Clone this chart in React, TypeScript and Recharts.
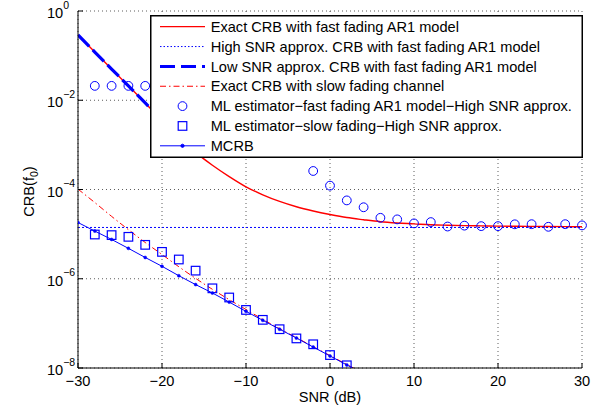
import React from 'react';
import { LineChart, Line, XAxis, YAxis, CartesianGrid, Legend } from 'recharts';

const FONT = '"Liberation Sans", Arial, Helvetica, sans-serif';
const RED = '#ff0000';
const BLUE = '#0000ff';

const snr = [-30, -28, -26, -24, -22, -20, -18, -16, -14, -12, -10, -8, -6, -4, -2, 0, 2, 4, 6, 8, 10, 12, 14, 16, 18, 20, 22, 24, 26, 28, 30];

const exactFast = [2.9e-1, 1.2e-1, 5.0e-2, 2.1e-2, 8.7e-3, 3.5e-3, 1.5e-3, 6.8e-4, 3.5e-4, 1.95e-4, 1.15e-4, 7.6e-5, 5.4e-5, 4.1e-5, 3.3e-5, 2.75e-5, 2.35e-5, 2.1e-5, 1.9e-5, 1.78e-5, 1.7e-5, 1.62e-5, 1.58e-5, 1.55e-5, 1.53e-5, 1.51e-5, 1.5e-5, 1.49e-5, 1.48e-5, 1.47e-5, 1.46e-5];

const highSnr = [1.41e-5, null, null, null, null, null, null, null, null, null, null, null, null, null, null, null, null, null, null, null, null, null, null, null, null, null, null, null, null, null, 1.41e-5];

const lowSnr = [2.9e-1, 1.2e-1, 5.0e-2, 2.1e-2, 8.7e-3, 3.6e-3, 1.5e-3, null, null, null, null, null, null, null, null, null, null, null, null, null, null, null, null, null, null, null, null, null, null, null, null];

const exactSlow = [1.02e-4, 5.1e-5, 2.5e-5, 1.26e-5, 6.5e-6, 3.5e-6, 1.86e-6, 1.02e-6, 5.8e-7, 3.4e-7, 2.05e-7, 1.23e-7, 7.6e-8, 4.8e-8, 3.0e-8, 1.9e-8, 1.2e-8, 7.6e-9, null, null, null, null, null, null, null, null, null, null, null, null, null];

const mlFast = [null, 2.1e-2, 2.1e-2, 2.1e-2, 2.1e-2, null, null, null, null, null, null, null, null, null, 2.6e-4, 1.22e-4, 5.7e-5, 4.0e-5, 2.32e-5, 2.14e-5, 1.74e-5, 1.86e-5, 1.48e-5, 1.55e-5, 1.51e-5, 1.51e-5, 1.66e-5, 1.67e-5, 1.46e-5, 1.67e-5, 1.57e-5];

const mlSlow = [null, 9.8e-6, 9.5e-6, 8.7e-6, 5.75e-6, 4.0e-6, 2.7e-6, 1.52e-6, 6.1e-7, 3.8e-7, 2.0e-7, 1.2e-7, 7.4e-8, 4.6e-8, 3.4e-8, 1.95e-8, 1.15e-8, null, null, null, null, null, null, null, null, null, null, null, null, null, null];

const mcrb = [1.82e-5, 1.17e-5, 7.6e-6, 4.8e-6, 3.0e-6, 1.9e-6, 1.17e-6, 7.4e-7, 4.8e-7, 3.0e-7, 1.86e-7, 1.17e-7, 7.4e-8, 4.7e-8, 2.95e-8, 1.86e-8, 1.17e-8, 7.4e-9, null, null, null, null, null, null, null, null, null, null, null, null, null];

const xTicks = [-30, -20, -10, 0, 10, 20, 30];
const yTicks = [1, 1e-2, 1e-4, 1e-6, 1e-8];

const legendLabels = [
  'Exact CRB with fast fading AR1 model',
  'High SNR approx. CRB with fast fading AR1 model',
  'Low SNR approx. CRB with fast fading AR1 model',
  'Exact CRB with slow fading channel',
  'ML estimator\u2212fast fading AR1 model\u2212High SNR approx.',
  'ML estimator\u2212slow fading\u2212High SNR approx.',
  'MCRB',
];

const data = snr.map((s, i) => ({
  snr: s,
  exactFast: exactFast[i],
  highSnr: highSnr[i],
  lowSnr: lowSnr[i],
  exactSlow: exactSlow[i],
  mlFast: mlFast[i],
  mlSlow: mlSlow[i],
  mcrb: mcrb[i],
}));

const minus = (v: number) => (v < 0 ? `\u2212${-v}` : `${v}`);

function BottomTick(props: any) {
  const { x, y, payload } = props;
  return (
    <g>
      <line x1={x} x2={x} y1={y} y2={y - 5} stroke="#000" strokeWidth={1} />
      <text x={x} y={y + 18} textAnchor="middle" fontFamily={FONT} fontSize={14.6} fill="#000">
        {minus(payload.value)}
      </text>
    </g>
  );
}

function TopTick(props: any) {
  const { x, y } = props;
  return <line x1={x} x2={x} y1={y} y2={y + 5} stroke="#000" strokeWidth={1} />;
}

function LeftTick(props: any) {
  const { x, y, payload } = props;
  const e = Math.round(Math.log10(payload.value));
  return (
    <g>
      <line x1={x} x2={x + 5} y1={y} y2={y} stroke="#000" strokeWidth={1} />
      <text x={x - 31} y={y + 7} textAnchor="start" fontFamily={FONT} fontSize={14.6} fill="#000">
        <tspan>10</tspan>
        <tspan dy={-9.5} fontSize={10.5}>{minus(e)}</tspan>
      </text>
    </g>
  );
}

function RightTick(props: any) {
  const { x, y } = props;
  return <line x1={x} x2={x - 5} y1={y} y2={y} stroke="#000" strokeWidth={1} />;
}

function SquareDot(props: any) {
  const { cx, cy, index } = props;
  if (cx == null || cy == null || isNaN(cx) || isNaN(cy)) return <g key={`sq-${index}`} />;
  return (
    <rect key={`sq-${index}`} x={cx - 4.3} y={cy - 4.3} width={8.6} height={8.6} fill="none" stroke={BLUE} strokeWidth={1.2} />
  );
}

function LegendBox() {
  const rowY = (i: number) => 11.7 + i * 19.85;
  const x1 = 10;
  const x2 = 55;
  const mx = 32.5;
  return (
    <svg width={433} height={143} style={{ display: 'block' }}>
      <rect x={0.75} y={0.75} width={431.5} height={141.5} fill="#fff" stroke="#000" strokeWidth={1.5} />
      <line x1={x1} x2={x2} y1={rowY(0)} y2={rowY(0)} stroke={RED} strokeWidth={1.3} />
      <line x1={x1} x2={x2} y1={rowY(1)} y2={rowY(1)} stroke={BLUE} strokeWidth={1} strokeDasharray="1.5 2" />
      <line x1={x1} x2={x2} y1={rowY(2)} y2={rowY(2)} stroke={BLUE} strokeWidth={3} strokeDasharray="15 6" />
      <line x1={x1} x2={x2} y1={rowY(3)} y2={rowY(3)} stroke={RED} strokeWidth={1} strokeDasharray="6 3 1.5 3" />
      <circle cx={mx} cy={rowY(4)} r={4.4} fill="none" stroke={BLUE} strokeWidth={1} />
      <rect x={mx - 4.3} y={rowY(5) - 4.3} width={8.6} height={8.6} fill="none" stroke={BLUE} strokeWidth={1.2} />
      <line x1={x1} x2={x2} y1={rowY(6)} y2={rowY(6)} stroke={BLUE} strokeWidth={1} />
      <circle cx={mx} cy={rowY(6)} r={1.6} fill={BLUE} stroke={BLUE} />
      {legendLabels.map((t, i) => (
        <text key={t} x={60.7} y={rowY(i) + 5.2} fontFamily={FONT} fontSize={14.6} fill="#000">
          {t}
        </text>
      ))}
    </svg>
  );
}

function XLabel(props: any) {
  const { viewBox } = props;
  const { x, y, width } = viewBox;
  return (
    <text x={x + width / 2} y={y + 34} textAnchor="middle" fontFamily={FONT} fontSize={14.6} fill="#000">
      SNR (dB)
    </text>
  );
}

function YLabel(props: any) {
  const { viewBox } = props;
  const { y, height } = viewBox;
  const cx = 34;
  const cy = y + height / 2 + 2;
  return (
    <text x={cx} y={cy} transform={`rotate(-90 ${cx} ${cy})`} textAnchor="middle" fontFamily={FONT} fontSize={14.6} fill="#000">
      <tspan>CRB(f</tspan>
      <tspan dy={4} fontSize={10.5}>0</tspan>
      <tspan dy={-4}>)</tspan>
    </text>
  );
}

export default function App() {
  return (
    <div style={{ position: 'absolute', left: 0, top: 0, width: 602, height: 408, background: '#fff' }}>
      <LineChart width={602} height={408} data={data} margin={{ top: 11, right: 20, bottom: 0, left: 0 }}>
        <CartesianGrid xAxisId="x" yAxisId="y" stroke="#333" strokeWidth={0.8} strokeDasharray="1 3" />
        <XAxis
          xAxisId="x"
          dataKey="snr"
          type="number"
          domain={[-30, 30]}
          ticks={xTicks}
          interval={0}
          allowDataOverflow
          height={40}
          tickSize={0}
          tickMargin={0}
          tickLine={false}
          axisLine={{ stroke: '#000', strokeWidth: 1 }}
          tick={<BottomTick />}
          label={<XLabel />}
        />
        <XAxis
          xAxisId="top"
          orientation="top"
          type="number"
          domain={[-30, 30]}
          ticks={xTicks}
          interval={0}
          allowDataOverflow
          height={0}
          tickSize={0}
          tickMargin={0}
          tickLine={false}
          axisLine={{ stroke: '#000', strokeWidth: 1 }}
          tick={<TopTick />}
        />
        <YAxis
          yAxisId="y"
          type="number"
          scale="log"
          domain={[1e-8, 1]}
          ticks={yTicks}
          interval={0}
          allowDataOverflow
          width={78}
          tickSize={0}
          tickMargin={0}
          tickLine={false}
          axisLine={{ stroke: '#000', strokeWidth: 1 }}
          tick={<LeftTick />}
          label={<YLabel />}
        />
        <YAxis
          yAxisId="right"
          orientation="right"
          type="number"
          scale="log"
          domain={[1e-8, 1]}
          ticks={yTicks}
          interval={0}
          allowDataOverflow
          width={0}
          tickSize={0}
          tickMargin={0}
          tickLine={false}
          axisLine={{ stroke: '#000', strokeWidth: 1 }}
          tick={<RightTick />}
        />
        <Line xAxisId="x" yAxisId="y" dataKey="exactFast" type="monotone" stroke={RED} strokeWidth={1.4} dot={false} activeDot={false} isAnimationActive={false} />
        <Line xAxisId="x" yAxisId="y" dataKey="highSnr" connectNulls stroke={BLUE} strokeWidth={1} strokeDasharray="2 2" dot={false} activeDot={false} isAnimationActive={false} />
        <Line xAxisId="x" yAxisId="y" dataKey="lowSnr" stroke={BLUE} strokeWidth={3.2} strokeDasharray="16 5" dot={false} activeDot={false} isAnimationActive={false} />
        <Line xAxisId="x" yAxisId="y" dataKey="exactSlow" type="monotone" stroke={RED} strokeWidth={1} strokeDasharray="6 3 1.5 3" dot={false} activeDot={false} isAnimationActive={false} />
        <Line xAxisId="x" yAxisId="y" dataKey="mlFast" stroke="none" dot={{ r: 4.4, stroke: BLUE, strokeWidth: 1, fill: 'none', clipDot: false } as any} activeDot={false} isAnimationActive={false} />
        <Line xAxisId="x" yAxisId="y" dataKey="mlSlow" stroke="none" dot={<SquareDot />} activeDot={false} isAnimationActive={false} />
        <Line xAxisId="x" yAxisId="y" dataKey="mcrb" stroke={BLUE} strokeWidth={1} dot={{ r: 1.5, stroke: BLUE, strokeWidth: 0.5, fill: BLUE }} activeDot={false} isAnimationActive={false} />
        <Legend
          layout="vertical"
          align="center"
          verticalAlign="middle"
          content={() => <LegendBox />}
          wrapperStyle={{ left: 149.5, top: 14.5, width: 433, height: 143, right: 'auto', bottom: 'auto', margin: 0, padding: 0 }}
        />
      </LineChart>
    </div>
  );
}
